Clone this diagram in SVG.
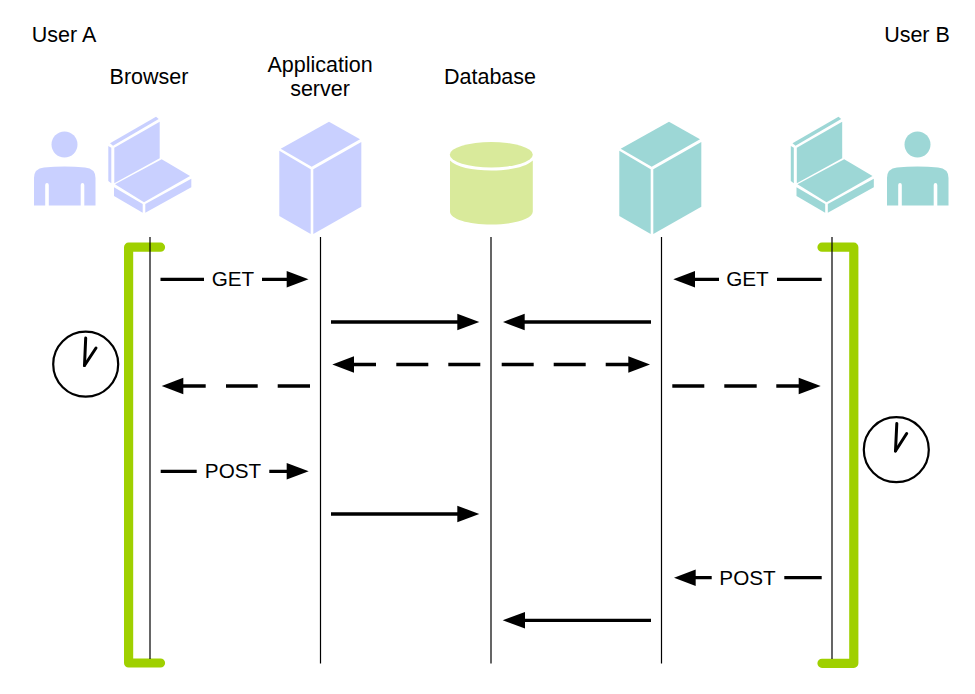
<svg xmlns="http://www.w3.org/2000/svg" width="975" height="694" viewBox="0 0 975 694">
<style>
text{font-family:"Liberation Sans",Arial,sans-serif;font-size:21.5px;fill:#000;text-anchor:middle}
text.lb{font-size:20.7px}
.life{stroke:#000;stroke-width:1.2;fill:none}
.br{stroke:#9fd000;stroke-width:9.2;fill:none;stroke-linecap:round;stroke-linejoin:round}
.a{stroke:#000;stroke-width:3.3;fill:none}
.hd{fill:#000}
.blue{fill:#c9d0ff}.teal{fill:#9dd7d6}.lime{fill:#d9ea9b}
.clk{fill:#fff;stroke:#000;stroke-width:2.2}
.hand{stroke:#000;stroke-width:3;stroke-linecap:round;fill:none}
</style>
<defs>
<g id="person"><circle cx="64.500" cy="144.500" r="13"/><path d="M34 205.500V178Q34 168.500 44 167.500Q64.500 165.500 85 167.500Q95.500 168.500 95.500 178V205.500H84.300V185Q84.300 183 82.500 183Q80.700 183 80.700 185V205.500H48.800V185Q48.800 183 47 183Q45.200 183 45.200 185V205.500Z"/></g>
<g id="laptop"><path d="M114.300 147.700L159.700 121.700V158.300L114.300 183.300Z"/><path d="M108.300 146L111.300 147.700V183.300L108.300 181Z"/><path d="M110 143.300L156 116.700L158.700 119L113 145.700Z"/><path d="M115 184.300L161.700 159.300L190 176L144 202.300Z"/><path d="M114 187.300L142.700 204V212.700L114 196Z"/><path d="M145.300 204L191.300 178.700V187.300L145.300 212.700Z"/></g>
<g id="server"><path d="M280.700 148.700L329 121.700L360 139.300L311.700 166.700Z"/><path d="M279.300 150.700L310.700 169.300V234L279.300 216Z"/><path d="M313.300 169.300L361.300 142V206.700L313.300 234Z"/></g>
</defs>
<g id="user-a"><use href="#person" class="blue"/><text x="64" y="42">User A</text></g>
<g id="browser"><use href="#laptop" class="blue"/><text x="149" y="84">Browser</text></g>
<g id="app-server"><use href="#server" class="blue"/><text x="320" y="72">Application</text><text x="320" y="96">server</text></g>
<g id="database" class="lime"><ellipse cx="491.300" cy="154.700" rx="41.500" ry="12.700"/><path d="M450 160.500C456 167 472 170.500 491.300 170.500C510 170.500 526 167 532.800 160.500V211.500C532.800 219 514 224.500 491.300 224.500C468 224.500 450 219 450 211.500Z"/><text x="490" y="84" style="fill:#000">Database</text></g>
<g id="server-b"><use href="#server" class="teal" x="340"/></g>
<g id="browser-b"><use href="#laptop" class="teal" x="682.500"/></g>
<g id="user-b"><use href="#person" class="teal" x="853"/><text x="917" y="42">User B</text></g>
<g id="bracket-a"><path class="br" d="M160.500 247.200H128.600V663H160.500"/></g>
<g id="bracket-b"><path class="br" d="M822 247.200H853.800V663.300H822"/></g>
<g id="lifelines"><path class="life" d="M150 237V659M320.500 237V663.500M491 237V663.500M661.500 237V663.500M832 237V659"/></g>
<g id="clock-a"><circle class="clk" cx="85.700" cy="364.200" r="32.500"/><path class="hand" d="M84.500 365.500L85.700 338"/><path class="hand" d="M84.500 365.500L96 348"/></g>
<g id="clock-b"><circle class="clk" cx="896.300" cy="449.700" r="32.500"/><path class="hand" d="M895.500 451L896.800 423.500"/><path class="hand" d="M895.500 451L906.700 433.500"/></g>
<g id="connectors">
<path class="a" d="M160.500 279.300H204M262 279.300H290"/><path class="hd" d="M308.500 279.300L286.700 271V287.600Z"/>
<path class="a" d="M821.700 279.300H777M719 279.300H690"/><path class="hd" d="M673.300 279.300L695 271V287.600Z"/>
<path class="a" d="M331 322H460"/><path class="hd" d="M479.300 322L457.300 313.700V330.300Z"/>
<path class="a" d="M651 322H520"/><path class="hd" d="M503 322L524.700 313.700V330.300Z"/>
<path class="a" d="M350 364.500H376M396.300 364.500H428.300M448.300 364.500H480.300M501.700 364.500H533.700M553.700 364.500H585.700M605.700 364.500H632"/><path class="hd" d="M332.300 364.500L354 356.200V372.800Z"/><path class="hd" d="M650 364.500L628.300 356.200V372.800Z"/>
<path class="a" d="M310 386H277.700M257.700 386H226M205.700 386H180"/><path class="hd" d="M161.700 386L183.300 377.700V394.300Z"/>
<path class="a" d="M672.300 386H704.300M724.300 386H756.700M776.300 386H802"/><path class="hd" d="M820.700 386L798.700 377.700V394.300Z"/>
<path class="a" d="M160.700 471.300H196.700M269.300 471.300H290"/><path class="hd" d="M308.700 471.300L286.700 463V479.600Z"/>
<path class="a" d="M331 514H460"/><path class="hd" d="M479.300 514L457.300 505.700V522.300Z"/>
<path class="a" d="M821.700 577.700H784.300M711.700 577.700H692"/><path class="hd" d="M674 577.700L695.700 569.400V586Z"/>
<path class="a" d="M651 620.300H520"/><path class="hd" d="M502.700 620.300L525 612V628.600Z"/>
</g>
<g id="labels"><text class="lb" x="233" y="286">GET</text><text class="lb" x="747.500" y="286">GET</text><text class="lb" x="233" y="478">POST</text><text class="lb" x="747.500" y="585">POST</text></g>
</svg>
